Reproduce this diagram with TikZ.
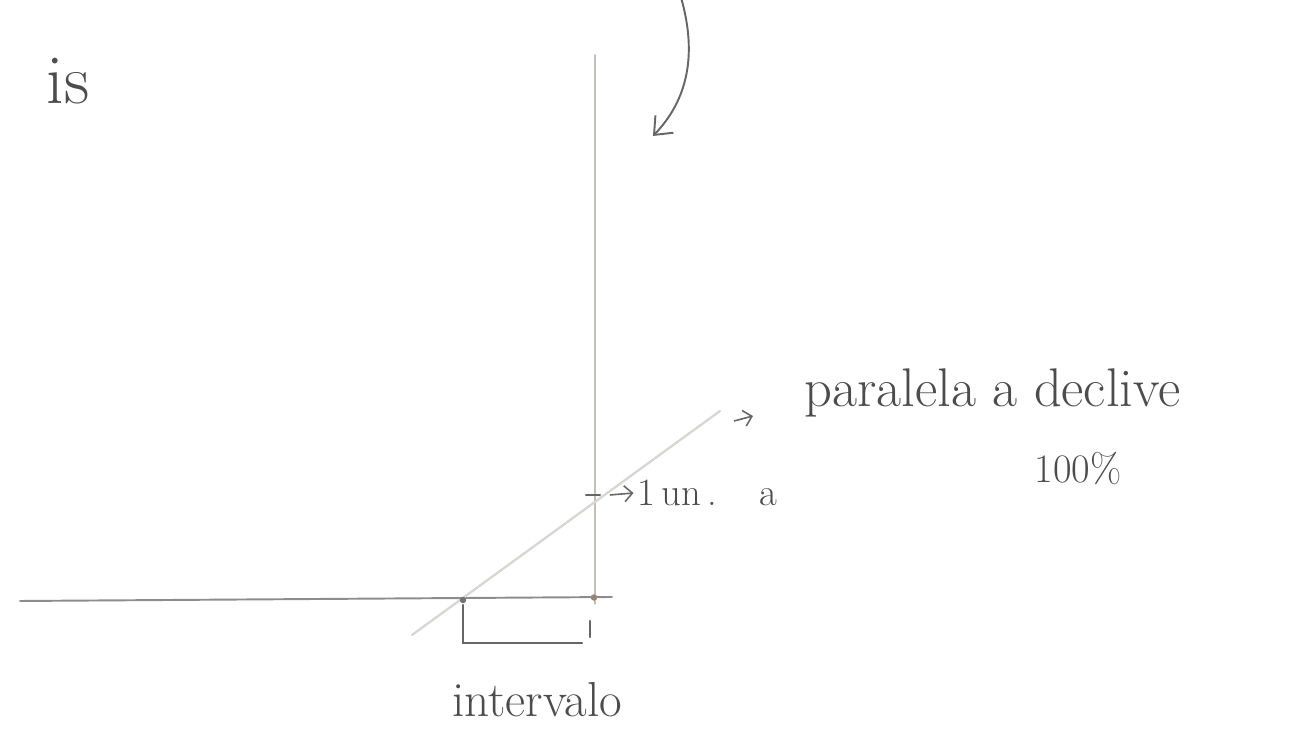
\documentclass[tikz,border=0pt]{standalone}
\usepackage{tikz}
\usetikzlibrary{positioning,arrows.meta,calc}

\begin{document}
\begin{tikzpicture}[
  hand/.style={text=black!70, inner sep=1pt},
  axisline/.style={line width=1.1pt, draw=black!45, line cap=round},
  vline/.style={line width=1.1pt, draw=brown!30!black!30, line cap=round},
  slopeline/.style={line width=1.3pt, draw=brown!20!black!18, line cap=round},
  penline/.style={line width=1.2pt, draw=black!60, line cap=round},
  smarrow/.style={line width=0.9pt, draw=black!60, -{Straight Barb[length=1.6mm,width=3.2mm]}}
]
\useasboundingbox (0,0) rectangle (26.14,-15.02);

% axes and the slope line
\coordinate (hL) at (0.4,-12.02);
\coordinate (hR) at (12.24,-11.94);
\coordinate (vT) at (11.9,-1.1);
\coordinate (vB) at (11.9,-12.08);
\coordinate (dA) at (8.24,-12.7);
\coordinate (dB) at (14.4,-8.22);
\draw[axisline] (hL) -- (hR);
\draw[vline] (vT) -- (vB);
\draw[slopeline] (dA) -- (dB);

% crossing points
\node[circle, fill=black!55, inner sep=1.3pt] (P) at (9.26,-12.0) {};
\node[circle, fill=brown!40!black!60, inner sep=1.3pt] (Q) at (11.88,-11.95) {};

% tick on the vertical line
\node[minimum width=2.6mm, inner sep=0pt] (tick) at (11.86,-9.9) {};
\draw[penline, line width=1.6pt] (tick.west) -- (tick.east);

% bracket under the interval
\draw[penline] (9.26,-12.1) -- (9.26,-12.86) -- (11.64,-12.86);
\draw[penline] (11.8,-12.42) -- (11.8,-12.74);

% labels
\node[hand, font=\fontsize{40}{44}\selectfont] (is) at (1.36,-1.62) {is};
\node[hand, font=\fontsize{28}{32}\selectfont] (interv) at (10.74,-14.0) {intervalo};
\node[hand, font=\fontsize{22}{26}\selectfont, anchor=west] (un) at (12.7,-9.86) {1\,un\,.\hspace{1.1em}a};
\node[hand, font=\fontsize{31}{36}\selectfont, anchor=west] (par) at (16.05,-7.85) {paralela a declive};
\node[hand, font=\fontsize{23}{27}\selectfont] (pct) at (21.56,-9.36) {100\%};

% small arrows to the labels
\coordinate (pA) at (14.68,-8.42);
\draw[smarrow] ([xshift=2mm]tick.east) -- ([xshift=-0.3mm]un.west);
\draw[smarrow] (pA) -- ++(0.38,0.1);

% curved arrow at the top
\coordinate (cS) at (13.62,0.05);
\coordinate (cE) at (13.06,-2.72);
\draw[penline, line width=1.1pt, -{Straight Barb[length=3mm,width=5mm]}]
  (cS) .. controls (13.95,-1.1) and (13.75,-2.0) .. (cE);

\end{tikzpicture}
\end{document}
